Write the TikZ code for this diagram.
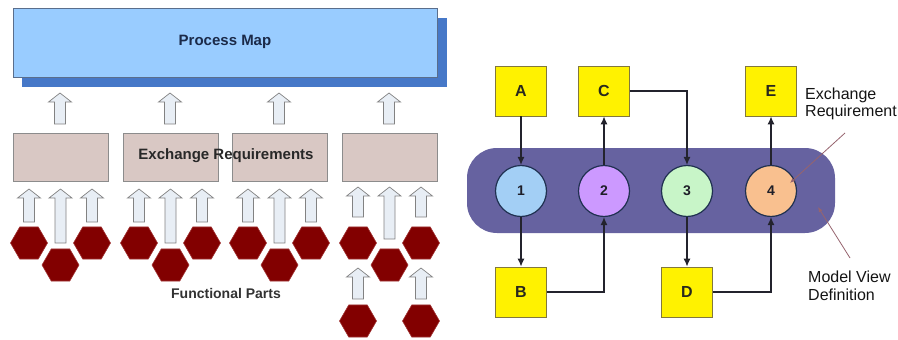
\documentclass[tikz,border=0pt]{standalone}
\usepackage{fontspec}
\setmainfont{Liberation Sans}
\usetikzlibrary{shapes.geometric,arrows.meta}
\definecolor{pmfill}{RGB}{153,204,255}
\definecolor{pmshadow}{RGB}{70,120,200}
\definecolor{pmtext}{RGB}{27,42,73}
\definecolor{erfill}{RGB}{217,200,196}
\definecolor{hexfill}{RGB}{130,0,0}
\definecolor{hexdraw}{RGB}{160,50,50}
\definecolor{blkfill}{RGB}{232,238,245}
\definecolor{band}{RGB}{102,98,160}
\definecolor{cone}{RGB}{163,207,245}
\definecolor{ctwo}{RGB}{204,153,255}
\definecolor{cthree}{RGB}{200,245,200}
\definecolor{cfour}{RGB}{249,192,143}
\definecolor{sqdraw}{RGB}{130,120,60}
\definecolor{circdraw}{RGB}{31,48,80}
\definecolor{callout}{RGB}{150,100,110}
\tikzset{
  pmbox/.style={draw={rgb,255:red,90;green,110;blue,140},fill=pmfill,line width=0.8pt},
  erbox/.style={draw={rgb,255:red,140;green,140;blue,140},fill=erfill,line width=0.8pt},
  hexnode/.style={regular polygon,regular polygon sides=6,minimum size=37pt,inner sep=0pt,fill=hexfill,draw=hexdraw,line width=0.6pt},
  blk/.style={draw={rgb,255:red,130;green,130;blue,130},fill=blkfill,line width=0.7pt,line join=miter},
  sqnode/.style={draw=sqdraw,fill=yellow,line width=0.8pt,minimum width=51pt,minimum height=50pt,inner sep=0pt,font=\bfseries\fontsize{16}{16}\selectfont,text={rgb,255:red,40;green,40;blue,30}},
  circnode/.style={circle,draw=circdraw,line width=1.2pt,minimum size=51pt,inner sep=0pt,font=\bfseries\fontsize{14}{14}\selectfont,text={rgb,255:red,30;green,30;blue,40}},
  conn/.style={draw={rgb,255:red,35;green,35;blue,45},line width=1.2pt,-{Latex[length=8pt,width=7pt]}},
  calloutline/.style={draw=callout,line width=0.8pt,-{Latex[length=5pt,width=4pt]}},
  lbl/.style={font=\fontsize{16}{17.5}\selectfont,align=left,anchor=west,inner sep=0pt,text={rgb,255:red,20;green,20;blue,20}}
}
\newcommand\blkup[3]{%
  \draw[blk] (#1-5.5,#3) -- (#1-5.5,#2+9) -- (#1-11.5,#2+9) -- (#1,#2) -- (#1+11.5,#2+9) -- (#1+5.5,#2+9) -- (#1+5.5,#3) -- cycle;}
\begin{document}
\begin{tikzpicture}[x=1pt,y=-1pt]
\useasboundingbox (0,0) rectangle (898,340);
% Process map
\fill[pmshadow] (22,18) rectangle (447,87);
\draw[pmbox] (13,8) rectangle (437,77);
\node[font=\bfseries\fontsize{15}{15}\selectfont,text=pmtext] (pm) at (225,42) {Process Map};
% top arrows
\foreach \x in {60,170,279,389} {\blkup{\x}{93}{124}}
% exchange requirement boxes
\draw[erbox] (13,133) rectangle (108,181);
\draw[erbox] (123,133) rectangle (218,181);
\draw[erbox] (232,133) rectangle (327,181);
\draw[erbox] (342,133) rectangle (437,181);
\node[font=\bfseries\fontsize{15}{15}\selectfont,text={rgb,255:red,40;green,40;blue,40}] (ert) at (226,156) {Exchange Requirements};
% lower arrows
\foreach \x in {29,139,248} {
  \blkup{\x}{189}{222}
  \blkup{\x+31.5}{189}{243}
  \blkup{\x+63}{189}{222}
}
\blkup{358}{187}{217}
\blkup{389.5}{187}{239}
\blkup{421}{187}{217}
\blkup{358}{268}{299}
\blkup{421}{268}{299}
% hexagons
\foreach \x/\n in {29/a,139/b,248/c,358/d} {
  \node[hexnode] (h\n1) at (\x,243) {};
  \node[hexnode] (h\n2) at (\x+31.5,265) {};
  \node[hexnode] (h\n3) at (\x+63,243) {};
}
\node[hexnode] (hd4) at (358,321) {};
\node[hexnode] (hd5) at (421,321) {};
\node[font=\bfseries\fontsize{14}{14}\selectfont,text={rgb,255:red,50;green,50;blue,50}] (fp) at (226,293) {Functional Parts};
% right part
\fill[band,rounded corners=30pt] (467,148) rectangle (835,233);
\node[circnode,fill=cone] (c1) at (521,191) {1};
\node[circnode,fill=ctwo] (c2) at (604,191) {2};
\node[circnode,fill=cthree] (c3) at (687,191) {3};
\node[circnode,fill=cfour] (c4) at (771,191) {4};
\node[sqnode] (A) at (521,91) {A};
\node[sqnode] (C) at (604,91) {C};
\node[sqnode] (E) at (771,91) {E};
\node[sqnode] (B) at (521,292) {B};
\node[sqnode] (D) at (687,292) {D};
\draw[conn] (A) -- (c1);
\draw[conn] (c2) -- (C);
\draw[conn] (C.east) -| (c3.north);
\draw[conn] (c4) -- (E);
\draw[conn] (c1) -- (B);
\draw[conn] (B.east) -| (c2.south);
\draw[conn] (c3) -- (D);
\draw[conn] (D.east) -| (c4.south);
\node[lbl] (erl) at (805,104) {Exchange\\Requirement};
\node[lbl] (mvd) at (808,286) {Model View\\Definition};
\coordinate (erp) at (845,133);
\coordinate (erq) at (790,183);
\coordinate (mvp) at (850,258);
\coordinate (mvq) at (818,207);
\draw[calloutline] (erp) -- (erq);
\draw[calloutline] (mvp) -- (mvq);
\end{tikzpicture}
\end{document}
